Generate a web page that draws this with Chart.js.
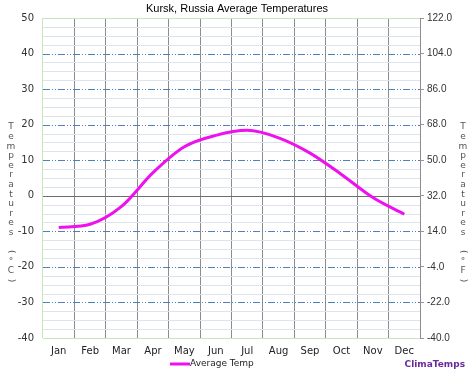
<!DOCTYPE html>
<html>
<head>
<meta charset="utf-8">
<script src="https://cdn.jsdelivr.net/npm/chart.js@4.4.0/dist/chart.umd.min.js"></script>
<style>
  html, body { margin: 0; padding: 0; background: #fff; }
</style>
</head>
<body>
<canvas id="kursk-temps" width="474" height="375"></canvas>
<script>
'use strict';

const months = ['Jan', 'Feb', 'Mar', 'Apr', 'May', 'Jun', 'Jul', 'Aug', 'Sep', 'Oct', 'Nov', 'Dec'];
const avgTemp = [-8.9, -8.0, -3.0, 6.5, 13.8, 17.0, 18.4, 16.3, 12.0, 6.0, -0.5, -5.2];
const celsiusRange = [-40, 50];
const fahrenheitRange = [-40, 122];
const chartTitle = 'Kursk, Russia Average Temperatures';
const seriesLabel = 'Average Temp';
const brand = 'ClimaTemps';

const textFont = '"DejaVu Sans", Verdana, sans-serif';
const arialFont = '"Liberation Sans", Arial, sans-serif';

// grid lines, stacked axis titles, legend and brand
const decorPlugin = {
    id: 'decor',
    beforeDatasetsDraw: function (chart) {
        const ctx = chart.ctx;
        const area = chart.chartArea;
        const y = chart.scales.y;
        ctx.save();
        for (let v = celsiusRange[0]; v <= celsiusRange[1]; v += 2.5) {
            const py = Math.round(y.getPixelForValue(v)) + 0.5;
            ctx.setLineDash([]);
            ctx.lineWidth = 1;
            if (v === celsiusRange[0] || v === celsiusRange[1]) {
                ctx.strokeStyle = '#c4e8bc';
            } else if (v === 0) {
                ctx.strokeStyle = '#6e6e6e';
            } else if (v % 10 === 0) {
                ctx.strokeStyle = '#4f7fbf';
                ctx.setLineDash([7, 2, 1, 2, 1, 2]);
            } else {
                ctx.strokeStyle = '#dde3ec';
            }
            ctx.beginPath();
            ctx.moveTo(area.left, py);
            ctx.lineTo(area.right, py);
            ctx.stroke();
        }
        ctx.restore();
    },
    afterDraw: function (chart) {
        const ctx = chart.ctx;
        ctx.save();
        ctx.fillStyle = '#000';
        ctx.font = '11px ' + arialFont;
        ctx.textAlign = 'center';
        ctx.textBaseline = 'middle';
        ctx.fillText(chartTitle, 237, 9);

        const drawStacked = function (text, x) {
            ctx.font = '9px ' + textFont;
            ctx.fillStyle = '#555';
            ctx.textAlign = 'center';
            ctx.textBaseline = 'middle';
            text.split('').forEach(function (ch, i) {
                const py = 127 + i * 9.6;
                if (ch === '(' || ch === ')') {
                    ctx.save();
                    ctx.translate(x, py);
                    ctx.rotate(Math.PI / 2);
                    ctx.fillText(ch, 0, 0);
                    ctx.restore();
                } else {
                    ctx.fillText(ch, x, py);
                }
            });
        };
        drawStacked('Temperatures (°C)', 11);
        drawStacked('Temperatures (°F)', 463);

        // legend
        ctx.strokeStyle = '#ee11ee';
        ctx.lineWidth = 3;
        ctx.beginPath();
        ctx.moveTo(170, 364);
        ctx.lineTo(190, 364);
        ctx.stroke();
        ctx.fillStyle = '#222';
        ctx.font = '9px ' + textFont;
        ctx.textAlign = 'left';
        ctx.fillText(seriesLabel, 190, 364);

        ctx.fillStyle = '#6b2a9c';
        ctx.font = 'bold 9px ' + textFont;
        ctx.textAlign = 'right';
        ctx.fillText(brand, 465, 365);
        ctx.restore();
    }
};

const ctx = document.getElementById('kursk-temps').getContext('2d');

window.kurskChart = new Chart(ctx, {
    type: 'line',
    data: {
        labels: months,
        datasets: [{
            label: seriesLabel,
            data: avgTemp,
            borderColor: '#ee11ee',
            borderWidth: 3,
            pointRadius: 0,
            cubicInterpolationMode: 'monotone',
            yAxisID: 'y',
        }],
    },
    options: {
        responsive: false,
        animation: false,
        layout: { padding: { top: 18, left: 0, right: 0, bottom: 0 } },
        plugins: {
            legend: { display: false },
            title: { display: false },
            tooltip: { enabled: false },
        },
        scales: {
            x: {
                offset: true,
                afterFit: function (s) { s.height = 37; },
                border: { display: false },
                grid: {
                    offset: true,
                    drawTicks: false,
                    color: function (c) { return c.index === 0 ? '#c4e8bc' : '#8c8c8c'; },
                },
                ticks: {
                    padding: 7,
                    color: '#222',
                    font: { family: textFont, size: 10 },
                },
            },
            y: {
                position: 'left',
                min: celsiusRange[0],
                max: celsiusRange[1],
                afterFit: function (s) { s.width = 43; },
                border: { display: false },
                grid: { display: false, drawTicks: false, tickLength: 0 },
                ticks: {
                    stepSize: 10,
                    padding: 9,
                    color: '#333',
                    font: { family: textFont, size: 10 },
                },
            },
            y2: {
                position: 'right',
                min: fahrenheitRange[0],
                max: fahrenheitRange[1],
                afterFit: function (s) { s.width = 54; },
                border: { display: true, color: '#8c8c8c' },
                grid: {
                    drawOnChartArea: false,
                    drawTicks: true,
                    tickLength: 4,
                    color: '#999',
                },
                ticks: {
                    stepSize: 18,
                    padding: 3,
                    color: '#333',
                    font: { family: arialFont, size: 10 },
                    callback: function (v) { return v.toFixed(1); },
                },
            },
        },
    },
    plugins: [decorPlugin],
});
</script>
</body>
</html>
